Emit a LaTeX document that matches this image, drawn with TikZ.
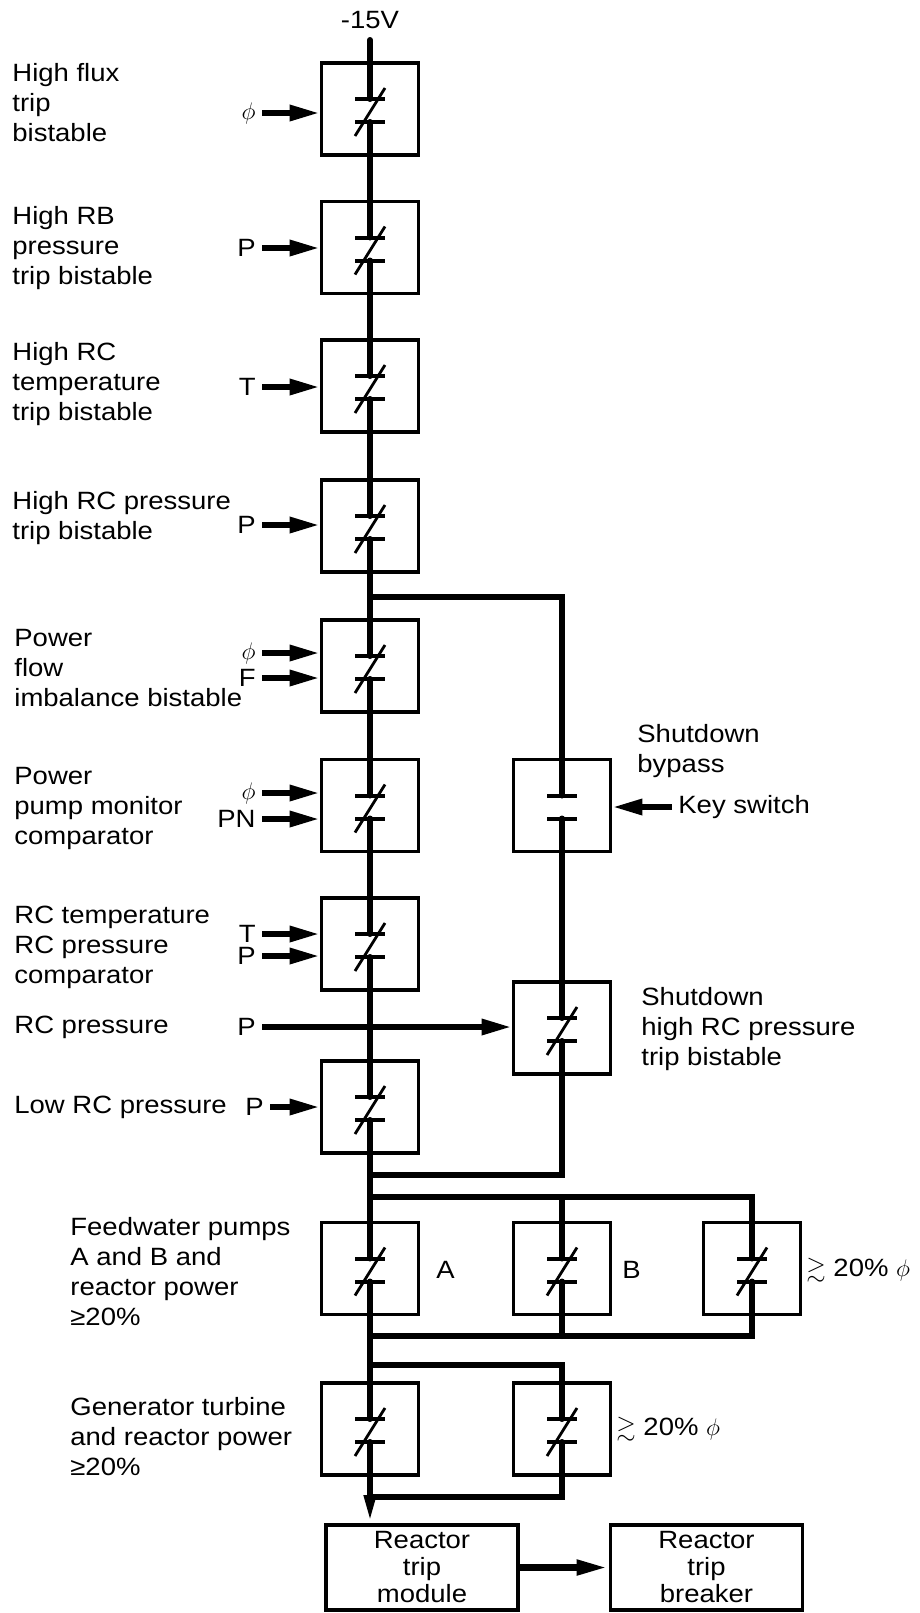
\documentclass[tikz,border=0pt]{standalone}
\usepackage{amssymb}
\usepackage{fontspec}
\setmainfont{Liberation Sans}[FakeStretch=1.1]
\usetikzlibrary{arrows.meta}

\tikzset{
  relay/.style={draw, line width=1.8pt, minimum width=48.5pt, minimum height=46pt, inner sep=0pt},
  wire/.style={line width=3pt, line cap=round},
  bar/.style={line width=2pt},
  slash/.style={line width=1.4pt},
  feed/.style={line width=3pt, -{Triangle[length=15pt,width=7.5pt]}},
  sig/.style={inner sep=3pt, anchor=east},
  lbl/.style={inner sep=0pt, anchor=west, align=left},
  unit/.style={draw, line width=1.8pt, minimum width=96pt, minimum height=42.5pt, inner sep=0pt,
    align=center, font=\fontsize{12.5}{13.5}\selectfont},
}

\begin{document}
\begin{tikzpicture}[x=0.5pt, y=-0.5pt, font=\fontsize{12.5}{15}\selectfont]
\useasboundingbox (0,0) rectangle (920,1613);

% relay boxes with their contacts
\foreach \n/\x/\y/\s in {fl/370/109/1, rb/370/247.5/1, rct/370/386/1, rcp/370/526/1,
    pfi/370/666/1, ppm/370/805.5/1, rcc/370/944/1, lrc/370/1107/1, fwa/370/1268.5/1,
    gta/370/1429/1, byp/562/805.5/0, shp/562/1028/1, fwb/562/1268.5/1, fwc/752/1268.5/1,
    gtb/562/1429/1}{
  \node[relay] (\n) at (\x,\y) {};
  \coordinate (\n-t) at (\x,\y-10);
  \coordinate (\n-b) at (\x,\y+13);
  \draw[bar] (\x-15,\y-10) -- (\x+15,\y-10);
  \draw[bar] (\x-15,\y+13) -- (\x+15,\y+13);
  \ifnum\s=1 \draw[slash] (\x-15,\y+27) -- (\x+15,\y-21); \fi
}

\node[unit] (module) at (422,1567.5) {Reactor\\trip\\module};
\node[unit] (breaker) at (706.5,1567.5) {Reactor\\trip\\breaker};

% junctions on the main line
\coordinate (top) at (370,40);
\coordinate (brk) at (370,597);
\coordinate (ret) at (370,1175);
\coordinate (fwtop) at (370,1197);
\coordinate (fwbot) at (370,1336);
\coordinate (gttop) at (370,1365);
\coordinate (gtbot) at (370,1497);

\node (volt) at (370,20) {-15V};

\draw[wire] (top) -- (fl-t);
\draw[wire] (fl-b) -- (rb-t);
\draw[wire] (rb-b) -- (rct-t);
\draw[wire] (rct-b) -- (rcp-t);
\draw[wire] (rcp-b) -- (pfi-t);
\draw[wire] (pfi-b) -- (ppm-t);
\draw[wire] (ppm-b) -- (rcc-t);
\draw[wire] (rcc-b) -- (lrc-t);
\draw[wire] (lrc-b) -- (fwa-t);
\draw[wire] (fwa-b) -- (gta-t);
\draw[wire, -{Triangle[length=14pt,width=5.5pt]}] (gta-b) -- (gta-b |- module.north);

% shutdown bypass branch
\draw[wire] (brk) -| (byp-t);
\draw[wire] (byp-b) -- (shp-t);
\draw[wire] (shp-b) |- (ret);

% feedwater and generator branches
\draw[wire] (fwtop) -| (fwc-t);
\draw[wire] (fwb-t) -- (fwb-t |- fwtop);
\draw[wire] (fwc-b) |- (fwbot);
\draw[wire] (fwb-b) -- (fwb-b |- fwbot);
\draw[wire] (gttop) -| (gtb-t);
\draw[wire] (gtb-b) |- (gtbot);

\draw[line width=3.5pt, -{Triangle[length=16pt,width=7pt]}] (module) -- (breaker);

% input signals
\node[sig] (fl-i) at (262,113) {$\phi$};
\node[sig] (rb-i) at (262,248) {P};
\node[sig] (rct-i) at (262,387) {T};
\node[sig] (rcp-i) at (262,525) {P};
\node[sig] (pfi-i) at (262,653) {$\phi$};
\node[sig] (pfi-j) at (262,678) {F};
\node[sig] (ppm-i) at (262,793) {$\phi$};
\node[sig] (ppm-j) at (262,819) {PN};
\node[sig] (rcc-i) at (262,934) {T};
\node[sig] (rcc-j) at (262,956) {P};
\node[sig] (shp-i) at (262,1027) {P};
\node[sig] (lrc-i) at (270,1107) {P};
\foreach \n/\b in {fl-i/fl, rb-i/rb, rct-i/rct, rcp-i/rcp, pfi-i/pfi, pfi-j/pfi, ppm-i/ppm,
    ppm-j/ppm, rcc-i/rcc, rcc-j/rcc, shp-i/shp, lrc-i/lrc}
  \draw[feed] (\n) -- (\n -| \b.west);

\node[lbl, inner sep=3pt] (key) at (672,807) {Key switch};
\draw[feed] (key) -- (key -| byp.east);

% labels
\node[lbl] (fl-l) at (12,103) {High flux\\trip\\bistable};
\node[lbl] (rb-l) at (12,248) {High RB\\pressure\\trip bistable};
\node[lbl] (rct-l) at (12,384) {High RC\\temperature\\trip bistable};
\node[lbl] (rcp-l) at (12,518) {High RC pressure\\trip bistable};
\node[lbl] (pfi-l) at (14,668) {Power\\flow\\imbalance bistable};
\node[lbl] (ppm-l) at (14,808) {Power\\pump monitor\\comparator};
\node[lbl] (rcc-l) at (14,947) {RC temperature\\RC pressure\\comparator};
\node[lbl] (shp-p) at (14,1027) {RC pressure};
\node[lbl] (lrc-l) at (14,1107) {Low RC pressure};
\node[lbl] (fw-l) at (70,1272) {Feedwater pumps\\A and B and\\reactor power\\≥20\%};
\node[lbl] (gt-l) at (70,1437) {Generator turbine\\and reactor power\\≥20\%};
\node[lbl] (byp-l) at (637,751) {Shutdown\\bypass};
\node[lbl] (shp-l) at (641,1029) {Shutdown\\high RC pressure\\trip bistable};
\node[lbl, inner sep=3pt] (fwa-l) at (430,1270) {A};
\node[lbl, inner sep=3pt] (fwb-l) at (616,1270) {B};
\node[lbl, inner sep=3pt] (fwc-l) at (800,1270) {$\gtrsim$ 20\% $\phi$};
\node[lbl, inner sep=3pt] (gtb-l) at (610,1429) {$\gtrsim$ 20\% $\phi$};
\end{tikzpicture}
\end{document}
